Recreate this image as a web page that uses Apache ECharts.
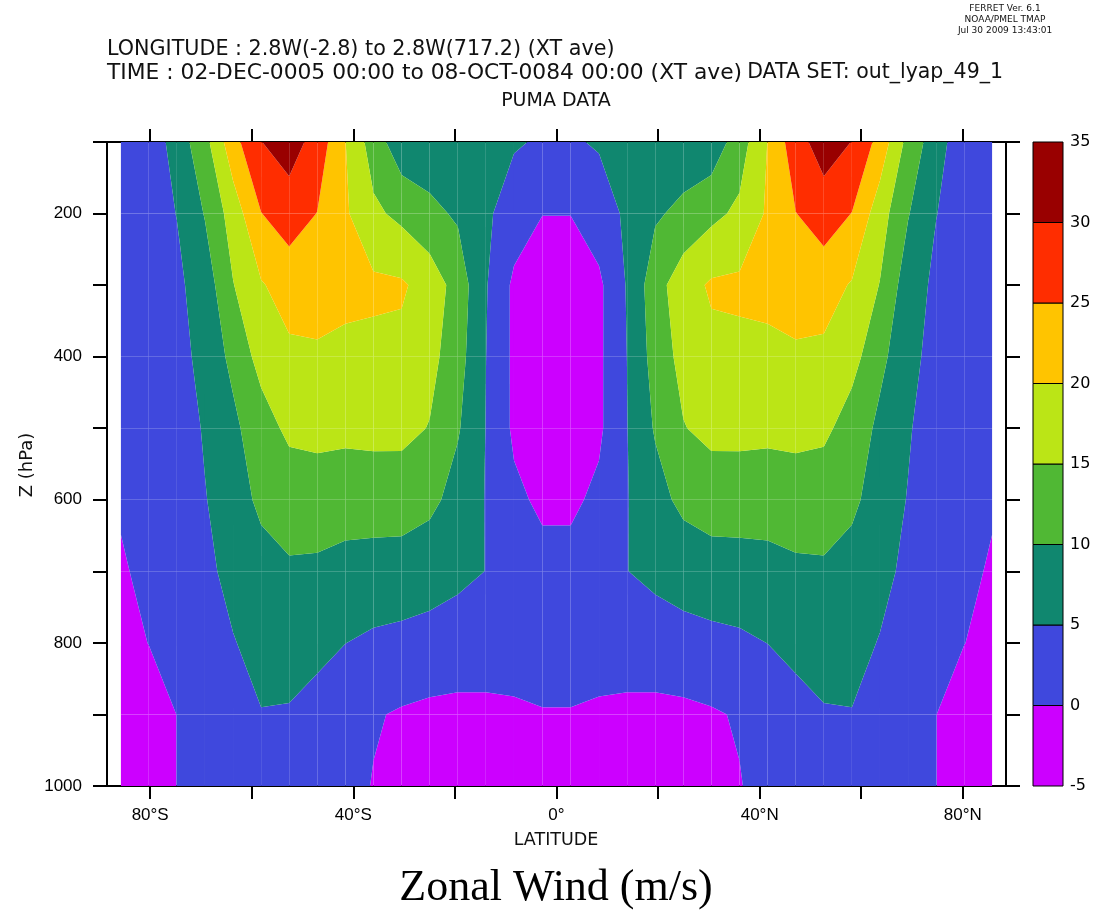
<!DOCTYPE html>
<html>
<head>
<meta charset="utf-8">
<script src="https://cdn.jsdelivr.net/npm/echarts@6/dist/echarts.min.js"></script>
<style>
  html, body { margin: 0; padding: 0; background: #ffffff; }
  #chart { width: 1103px; height: 913px; }
</style>
</head>
<body>
<div id="chart"></div>
<script>
// Gaussian latitudes of the model grid (south to north)
const lats = [-85.76, -80.27, -74.74, -69.21, -63.69, -58.16, -52.63, -47.10,
              -41.57, -36.04, -30.50, -24.97, -19.44, -13.91, -8.37, -2.79,
                2.79,   8.37,  13.91,  19.44,  24.97,  30.50,  36.04,  41.57,
               47.10,  52.63,  58.16,  63.69,  69.21,  74.74,  80.27,  85.76];

// Pressure levels (hPa)
const levels = [100, 200, 300, 400, 500, 600, 700, 800, 900, 1000];

// Zonal-mean zonal wind (m/s) on each pressure level, south to north
const u100  = [1.5, 1.67, 7.22, 13.4, 23.2, 29.9, 32.3, 28.05, 20.1, 12.6, 6.8, 7.0, 6.5, 6.0, 5.46, 4.48,
               4.48, 5.46, 6.0, 6.5, 7.0, 6.8, 12.6, 20.1, 28.05, 32.3, 29.9, 23.2, 13.4, 7.22, 1.67, 1.5];
const u200  = [1.8, 3.0, 5.1, 10.3, 17.24, 24.9, 27.5, 24.9, 20.65, 15.98, 13.76, 11.2, 9.35, 5.85, 2.57, 0.1,
               0.1, 2.57, 5.85, 9.35, 11.2, 13.76, 15.98, 20.65, 24.9, 27.5, 24.9, 17.24, 10.3, 5.1, 3.0, 1.8];
const u300  = [1.8, 2.5, 4.06, 7.3, 14.8, 19.6, 22.07, 23.0, 22.5, 20.94, 20.65, 17.95, 12.95, 5.38, -0.95, -3.2,
               -3.2, -0.95, 5.38, 12.95, 17.95, 20.65, 20.94, 22.5, 23.0, 22.07, 19.6, 14.8, 7.3, 4.06, 2.5, 1.8];
const u400  = [1.5, 2.2, 2.2, 7.5, 10.94, 17.0, 19.03, 19.05, 17.87, 18.8, 18.68, 16.6, 12.02, 5.06, -0.89, -3.0,
               -3.0, -0.89, 5.06, 12.02, 16.6, 18.68, 18.8, 17.87, 19.05, 19.03, 17.0, 10.94, 7.5, 2.2, 2.2, 1.5];
const u500  = [1.3, 2.2, 2.2, 5.5, 9.13, 12.36, 16.3, 16.5, 16.3, 16.0, 16.5, 14.76, 10.5, 4.9, -0.86, -2.5,
               -2.5, -0.86, 4.9, 10.5, 14.76, 16.5, 16.0, 16.3, 16.5, 16.3, 12.36, 9.13, 5.5, 2.2, 2.2, 1.3];
const u600  = [1.0, 2.3, 2.0, 4.76, 7.77, 11.0, 11.3, 12.21, 11.66, 12.9, 11.8, 11.39, 8.0, 4.81, 1.05, -0.93,
               -0.93, 1.05, 4.81, 8.0, 11.39, 11.8, 12.9, 11.66, 12.21, 11.3, 11.0, 7.77, 4.76, 2.0, 2.3, 1.0];
const u700  = [-1.04, 2.3, 1.8, 3.82, 6.5, 8.14, 9.63, 9.22, 8.75, 7.43, 8.27, 6.43, 6.0, 4.95, 2.0, 1.65,
               1.65, 2.0, 4.95, 6.0, 6.43, 8.27, 7.43, 8.75, 9.22, 9.63, 8.14, 6.5, 3.82, 1.8, 2.3, -1.04];
const u800  = [-1.0, 0.05, 1.0, 2.5, 4.74, 6.6, 8.0, 6.5, 5.03, 4.35, 3.53, 3.83, 2.9, 1.9, 1.8, 1.8,
               1.8, 1.8, 1.9, 2.9, 3.83, 3.53, 4.35, 5.03, 6.5, 8.0, 6.6, 4.74, 2.5, 1.0, 0.05, -1.0];
const u900  = [-2.0, -1.5, 0.03, 1.5, 3.0, 4.82, 4.43, 3.0, 2.5, 0.36, -0.44, -1.21, -1.3, -0.85, -0.6, -0.2,
               -0.2, -0.6, -0.85, -1.3, -1.21, -0.44, 0.36, 2.5, 3.0, 4.43, 4.82, 3.0, 1.5, 0.03, -1.5, -2.0];
const u1000 = [-2.0, -1.5, 0.03, 1.0, 2.5, 3.8, 3.5, 2.5, 1.47, -0.2, -1.5, -2.0, -2.0, -2.0, -1.5, -1.0,
               -1.0, -1.5, -2.0, -2.0, -2.0, -1.5, -0.2, 1.47, 2.5, 3.5, 3.8, 2.5, 1.0, 0.03, -1.5, -2.0];

// Contour levels and fill colours of the bands between them
const contourLevels = [-5, 0, 5, 10, 15, 20, 25, 30, 35];
const bandColors = ['#cc00ff', '#3f48dd', '#10876f', '#50b834', '#bbe516', '#ffc400', '#ff2d00', '#990000'];

// Axis tick positions and labels
const latTicks = [-80, -60, -40, -20, 0, 20, 40, 60, 80];
const latLabels = [-80, -40, 0, 40, 80];
const pressureLabels = [200, 400, 600, 800, 1000];

const rows = [u100, u200, u300, u400, u500, u600, u700, u800, u900, u1000];

// Cells of the lat/pressure grid, one data item per cell
const cells = [];
for (let k = 0; k < levels.length - 1; k++) {
  for (let i = 0; i < lats.length - 1; i++) {
    cells.push([(lats[i] + lats[i + 1]) / 2, (levels[k] + levels[k + 1]) / 2, i, k]);
  }
}

// Keep the part of a polygon where v >= t (above) or v <= t (below),
// with crossings placed by linear interpolation along each edge.
function clipPoly(poly, t, above) {
  const out = [];
  for (let n = 0; n < poly.length; n++) {
    const a = poly[n], b = poly[(n + 1) % poly.length];
    const ina = above ? a.v >= t : a.v <= t;
    const inb = above ? b.v >= t : b.v <= t;
    if (ina) out.push(a);
    if (ina !== inb) {
      const f = (t - a.v) / (b.v - a.v);
      out.push({ x: a.x + f * (b.x - a.x), y: a.y + f * (b.y - a.y), v: t });
    }
  }
  return out;
}

function renderCell(params, api) {
  const i = api.value(2), k = api.value(3);
  const quad = [
    { x: lats[i],     y: levels[k],     v: rows[k][i] },
    { x: lats[i + 1], y: levels[k],     v: rows[k][i + 1] },
    { x: lats[i + 1], y: levels[k + 1], v: rows[k + 1][i + 1] },
    { x: lats[i],     y: levels[k + 1], v: rows[k + 1][i] }
  ];
  const children = [];
  for (let b = 0; b < bandColors.length; b++) {
    const lo = b === 0 ? -Infinity : contourLevels[b];
    const hi = b === bandColors.length - 1 ? Infinity : contourLevels[b + 1];
    let poly = clipPoly(quad, lo, true);
    if (poly.length >= 3) poly = clipPoly(poly, hi, false);
    if (poly.length < 3) continue;
    children.push({
      type: 'polygon',
      shape: { points: poly.map(p => api.coord([p.x, p.y])) },
      style: { fill: bandColors[b] },
      silent: true
    });
  }
  return { type: 'group', children: children };
}

// Colour key: one box per band
const keyBands = bandColors.map((c, b) => [0.5, (contourLevels[b] + contourLevels[b + 1]) / 2, b]);

function renderKey(params, api) {
  const b = api.value(2);
  const p0 = api.coord([0, contourLevels[b]]);
  const p1 = api.coord([1, contourLevels[b + 1]]);
  return {
    type: 'rect',
    shape: { x: p0[0], y: p1[1], width: p1[0] - p0[0], height: p0[1] - p1[1] },
    style: { fill: bandColors[b], stroke: '#000', lineWidth: 1 }
  };
}

function latFormatter(v) {
  if (v === 0) return '0°';
  return Math.abs(v) + '°' + (v < 0 ? 'S' : 'N');
}

const FRAME = { show: true, onZero: false, lineStyle: { color: '#000', width: 2 } };
const TICK = { show: true, inside: false, length: 13, lineStyle: { color: '#000', width: 2 } };
const SANS = 'DejaVu Sans';
const LABEL_FONT = 'Liberation Sans';

function textEl(x, y, text, size, align, extra) {
  return Object.assign({
    type: 'text', x: x, y: y,
    style: {
      text: text, fontFamily: SANS, fontSize: size, fill: '#111',
      align: align, verticalAlign: 'middle', textAlign: align, textVerticalAlign: 'middle'
    }
  }, extra || {});
}

const chart = echarts.init(document.getElementById('chart'), null, { renderer: 'canvas' });
chart.setOption({
  animation: false,
  backgroundColor: '#ffffff',
  grid: [
    { left: 107, top: 142, width: 899, height: 644 },
    { left: 1033, top: 142, width: 30, height: 644 }
  ],
  xAxis: [
    {
      type: 'value', gridIndex: 0, position: 'bottom', min: -88.5, max: 88.5,
      axisLine: FRAME,
      axisTick: Object.assign({}, TICK, { customValues: latTicks }),
      axisLabel: { customValues: latLabels, formatter: latFormatter, color: '#000',
                   fontFamily: LABEL_FONT, fontSize: 17, margin: 21 },
      splitLine: { show: false }
    },
    {
      type: 'value', gridIndex: 0, position: 'top', min: -88.5, max: 88.5,
      axisLine: FRAME,
      axisTick: Object.assign({}, TICK, { customValues: latTicks }),
      axisLabel: { show: false },
      splitLine: { show: false }
    },
    { type: 'value', gridIndex: 1, min: 0, max: 1, show: false }
  ],
  yAxis: [
    {
      type: 'value', gridIndex: 0, position: 'left', inverse: true, min: 100, max: 1000, interval: 100,
      axisLine: FRAME,
      axisTick: Object.assign({}, TICK, { length: 14 }),
      axisLabel: { customValues: pressureLabels, formatter: v => String(v), color: '#000',
                   fontFamily: LABEL_FONT, fontSize: 17, margin: 25 },
      splitLine: { show: false }
    },
    {
      type: 'value', gridIndex: 0, position: 'right', inverse: true, min: 100, max: 1000, interval: 100,
      axisLine: FRAME,
      axisTick: Object.assign({}, TICK, { length: 14 }),
      axisLabel: { show: false },
      splitLine: { show: false }
    },
    {
      type: 'value', gridIndex: 1, position: 'right', min: -5, max: 35, interval: 5,
      axisLine: { show: false }, axisTick: { show: false },
      axisLabel: { formatter: v => String(v), color: '#000', fontFamily: SANS, fontSize: 16, margin: 7 },
      splitLine: { show: false }
    }
  ],
  series: [
    {
      type: 'custom', name: 'Zonal Wind', xAxisIndex: 0, yAxisIndex: 0,
      data: cells, renderItem: renderCell, silent: true
    },
    {
      type: 'custom', name: 'key', xAxisIndex: 2, yAxisIndex: 2,
      data: keyBands, renderItem: renderKey, silent: true
    }
  ],
  graphic: [
    textEl(1005, 9, 'FERRET Ver. 6.1', 9, 'center'),
    textEl(1005, 20, 'NOAA/PMEL TMAP', 9, 'center'),
    textEl(1005, 31, 'Jul 30 2009 13:43:01', 9, 'center'),
    textEl(107, 50, 'LONGITUDE : 2.8W(-2.8) to 2.8W(717.2) (XT ave)', 20.7, 'left'),
    textEl(107, 73, 'TIME : 02-DEC-0005 00:00 to 08-OCT-0084 00:00 (XT ave)', 21.8, 'left'),
    textEl(1003, 73, 'DATA SET: out_lyap_49_1', 20.5, 'right'),
    textEl(556, 101, 'PUMA DATA', 19, 'center'),
    textEl(556, 840, 'LATITUDE', 17.5, 'center'),
    textEl(27, 465, 'Z (hPa)', 18, 'center', { rotation: Math.PI / 2 }),
    {
      type: 'text', x: 556, y: 888,
      style: {
        text: 'Zonal Wind (m/s)', fontFamily: 'Liberation Serif', fontSize: 44, fill: '#000',
        align: 'center', verticalAlign: 'middle', textAlign: 'center', textVerticalAlign: 'middle'
      }
    }
  ]
});
</script>
</body>
</html>
